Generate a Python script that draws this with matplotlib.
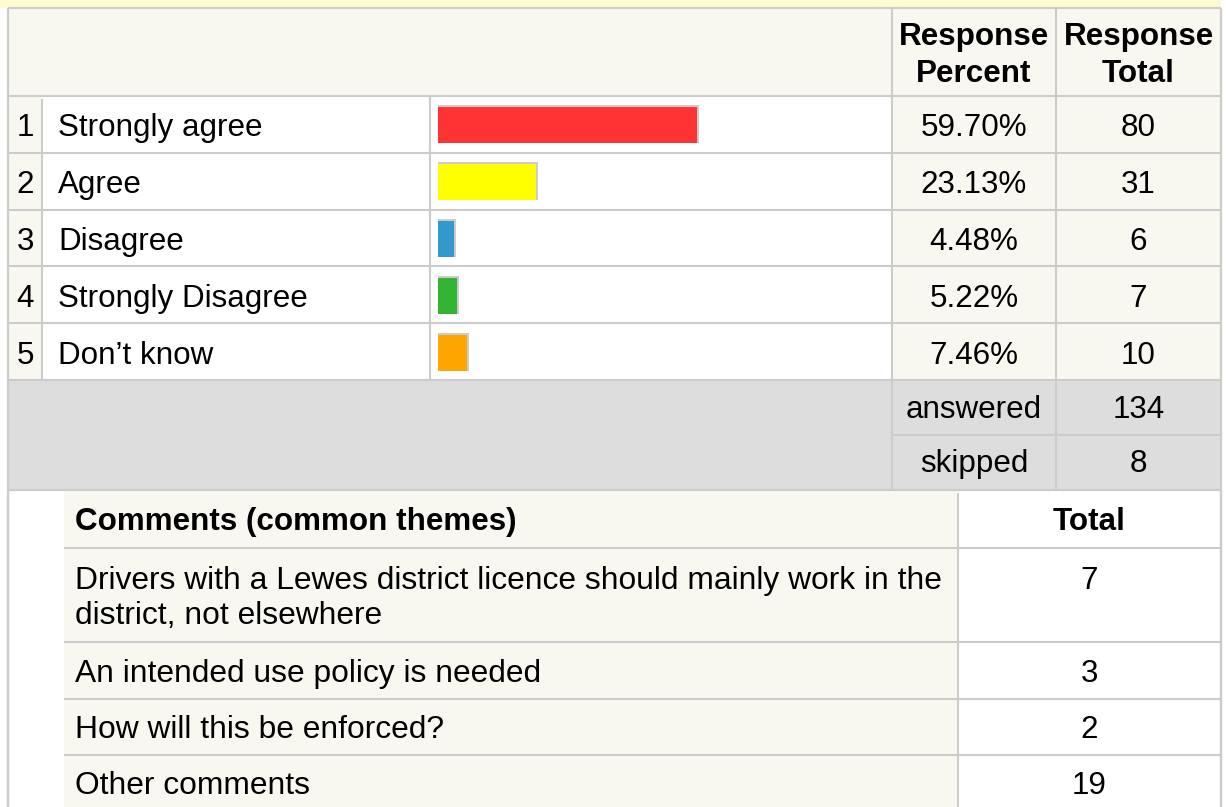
import matplotlib.pyplot as plt
from matplotlib.patches import Rectangle

plt.rcParams["font.family"] = ["Liberation Sans", "DejaVu Sans"]

# survey data
answers = ["Strongly agree", "Agree", "Disagree", "Strongly Disagree", "Don\u2019t know"]
percents = [59.70, 23.13, 4.48, 5.22, 7.46]
totals = [80, 31, 6, 7, 10]
bar_colors = ["#FF3333", "#FFFF00", "#3399CC", "#33B533", "#FFA500"]
answered = 134
skipped = 8

themes = ["Drivers with a Lewes district licence should mainly work in the\ndistrict, not elsewhere",
          "An intended use policy is needed",
          "How will this be enforced?",
          "Other comments"]
theme_totals = [7, 3, 2, 19]

BG = "#F8F7F0"
GRID = "#CCCCCC"
GREY = "#DDDDDD"
FS = 22.6

fig = plt.figure(figsize=(12.26, 8.07), dpi=100)
ax = fig.add_axes([0, 0, 1, 1])
ax.set_xlim(0, 1226)
ax.set_ylim(807, 0)
ax.axis("off")


def box(x0, y0, x1, y1, color):
    ax.add_patch(Rectangle((x0, y0), x1 - x0, y1 - y0, facecolor=color, edgecolor="none", zorder=0))


def hline(y, x0, x1, lw=1.5):
    ax.plot([x0, x1], [y, y], color=GRID, lw=lw, zorder=1, solid_capstyle="butt")


def vline(x, y0, y1, lw=1.5):
    ax.plot([x, x], [y0, y1], color=GRID, lw=lw, zorder=1, solid_capstyle="butt")


L, R = 8, 1221
row_h = 56.8
top = 96
rows = [top + row_h * i for i in range(len(answers) + 1)]
c_num, c_lab, c_bar, c_pct, c_tot = 42, 430, 892, 1056, R

# backgrounds
box(0, 0, R, 8, "#FEFBD2")
box(L, 8, R, top, BG)
box(L, top, c_num, rows[-1], BG)
box(c_num, top, c_pct, rows[-1], "white")
box(c_bar, top, R, rows[-1], BG)
box(L, rows[-1], R, 490, GREY)

# top table lines
hline(8, L, R)
for y in rows:
    hline(y, L, R)
hline(435, c_bar, R)
hline(490, L, R)
vline(L, 8, 807, lw=1.6)
vline(R, 8, 807, lw=1.6)
vline(c_num, top + 3, rows[-1])
vline(c_lab, top, rows[-1])
vline(c_bar, 8, 490)
vline(c_pct, 8, 490)

# header
for cx, sub in [((c_bar + c_pct) / 2, "Percent"), ((c_pct + c_tot) / 2, "Total")]:
    ax.text(cx, 45, "Response", ha="center", va="baseline", fontsize=FS, fontweight="bold")
    ax.text(cx, 82, sub, ha="center", va="baseline", fontsize=FS, fontweight="bold")

# bars
scale = 4.4
centers = [(rows[i] + rows[i + 1]) / 2 + 1 for i in range(len(answers))]
widths = [p * scale - 4 for p in percents]
ax.barh([c - 1 for c in centers], [w + 2 for w in widths], left=438, height=38,
        color=GRID, zorder=2)
ax.barh(centers, widths, left=438, height=36, color=bar_colors, zorder=3)

for i, (a, p, t) in enumerate(zip(answers, percents, totals)):
    base = (rows[i] + rows[i + 1]) / 2 + 12
    ax.text(25, base, str(i + 1), ha="center", va="baseline", fontsize=FS)
    ax.text(58, base, a, ha="left", va="baseline", fontsize=FS)
    ax.text((c_bar + c_pct) / 2, base, f"{p:.2f}%", ha="center", va="baseline", fontsize=FS)
    ax.text((c_pct + c_tot) / 2, base, str(t), ha="center", va="baseline", fontsize=FS)

ax.text((c_bar + c_pct) / 2, 418, "answered", ha="center", va="baseline", fontsize=FS)
ax.text((c_pct + c_tot) / 2, 418, str(answered), ha="center", va="baseline", fontsize=FS)
ax.text((c_bar + c_pct) / 2, 472, "skipped", ha="center", va="baseline", fontsize=FS)
ax.text((c_pct + c_tot) / 2, 472, str(skipped), ha="center", va="baseline", fontsize=FS)

# comments table
cl, cm = 64, 958
crows = [490, 548, 642, 699, 755, 811]
box(L, 490, R, 807, "white")
box(cl, 490, cm, 807, BG)
hline(490, L, R)
for y in crows[1:-1]:
    hline(y, cl, R)
vline(cm, 493, 807)
vline(L, 490, 807, lw=1.6)
vline(R, 490, 807, lw=1.6)

ax.text(75, 530, "Comments (common themes)", ha="left", va="baseline", fontsize=FS, fontweight="bold")
ax.text((cm + R) / 2, 530, "Total", ha="center", va="baseline", fontsize=FS, fontweight="bold")

for i, (th, n) in enumerate(zip(themes, theme_totals)):
    lines = th.split("\n")
    if len(lines) == 1:
        base = (crows[i + 1] + crows[i + 2]) / 2 + 11.5
    else:
        base = crows[i + 1] + 41
    for k, ln in enumerate(lines):
        ax.text(75, base + 35 * k, ln, ha="left", va="baseline", fontsize=22.9)
    ax.text((cm + R) / 2, base, str(n), ha="center", va="baseline", fontsize=FS)

fig.savefig("out.png", dpi=100)
